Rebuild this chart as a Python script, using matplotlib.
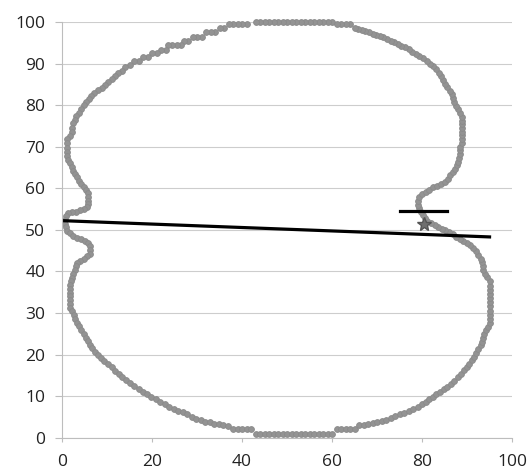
import matplotlib
matplotlib.use('Agg')
import matplotlib.pyplot as plt

plt.rcParams['font.family'] = ['Open Sans', 'DejaVu Sans']

# outline points, traced round the shape (top -> left -> bottom -> right)
top_x = [60, 59, 58, 57, 56, 55, 54, 53, 52, 51, 50, 49, 48, 47, 46, 45, 44, 43,
         41, 40, 39, 38, 37, 36, 35, 34, 33, 32, 31, 30, 29, 28, 27,
         26.5, 25.5, 24.5, 23.5, 23, 22, 21, 20, 19, 18, 17, 16]
top_y = [100, 100, 100, 100, 100, 100, 100, 100, 100, 100, 100, 100, 100, 100, 100, 100, 100, 100,
         99.4, 99.4, 99.4, 99.4, 99.4, 98.5, 98.5, 97.5, 97.5, 97.5, 96.5, 96.5, 96.5, 95.5, 95.5,
         94.5, 94.5, 94.5, 94.5, 93.2, 93.2, 92.5, 92.5, 91.5, 91.5, 90.5, 90.5]

left_x = [15, 14, 13.3, 12.5, 11.8, 11, 10.3, 9.5, 8.8, 8, 7.2, 6.5, 6, 5.3, 4.8, 4.3,
          3.8, 3.2, 2.8, 2.4, 2.2, 2.2, 1.8, 1.2, 1.0, 1.0, 1.0, 1.0, 1.3, 1.8, 2.2, 2.4,
          2.9, 3.4, 3.8, 4.3, 4.8, 5.3, 5.8, 5.8, 5.8, 5.8, 5.6, 4.8, 4, 3.2, 2.3, 1.4,
          0.8, 0.7, 0.7, 0.8, 1.2, 1.8, 2.5, 3.3, 4.2, 5, 5.8, 6.2, 6.2, 6.2, 5.6, 4.8,
          4, 3.3, 3.1, 2.9, 2.5, 2.2, 1.9, 1.8, 1.8, 1.8, 1.8, 1.8, 1.8, 1.8, 2.3, 2.6,
          2.8, 3.3, 3.8, 4.3, 4.9, 5.4, 5.8, 6.2, 6.7, 7.3, 7.9, 8.6, 9.4, 10.2, 11, 11.8,
          12.6, 13.4, 14.3, 15.2, 16.1, 17, 17.9, 18.8, 19.8, 20.8, 21.8, 22.8, 23.8,
          24.8, 25.8, 26.8, 27.8, 28.8, 29.8, 30.8, 31.8, 32.8, 33.8, 34.8, 35.8, 36.8]
left_y = [89.7, 89.2, 88.3, 87.8, 87, 86.3, 85.5, 84.8, 84.2, 83.6, 83, 82.2, 81.5, 80.8, 80, 79,
          78.2, 77.4, 76.5, 75.6, 74.6, 73.6, 72.6, 71.8, 70.8, 69.8, 68.8, 67.8, 66.8, 66, 65, 64.2,
          63.5, 62.6, 61.8, 61, 60.2, 59.5, 58.8, 57.9, 57, 56.1, 55.4, 55, 54.7, 54.4, 54.2, 54,
          53.3, 52.4, 51.5, 50.6, 49.8, 49.2, 48.5, 48.1, 47.8, 47.4, 46.8, 46, 45.1, 44.3, 43.6, 43.1,
          42.6, 42, 41.2, 40.3, 39.4, 38.5, 37.6, 36.7, 35.8, 34.9, 34, 33.1, 32.2, 31.3, 30.4, 29.5,
          28.6, 27.7, 26.8, 25.9, 25, 24.1, 23.2, 22.4, 21.5, 20.6, 19.8, 19.1, 18.4, 17.7, 16.9, 16.1,
          15.3, 14.6, 13.8, 13.1, 12.4, 11.7, 11, 10.5, 9.9, 9.2, 8.6, 8, 7.4,
          6.9, 6.5, 6.1, 5.6, 5.1, 4.6, 4.2, 3.9, 3.7, 3.4, 3.2, 3, 2.8]

bottom_x = [38, 39, 40, 41, 42, 43, 44, 45, 46, 47, 48, 49, 50, 51, 52, 53, 54, 55, 56, 57, 58,
            59, 60, 61, 62, 63, 64, 65, 66, 67, 68, 69, 70, 71, 72, 73, 74, 75, 76, 77, 78, 79, 80]
bottom_y = [2, 2, 2, 2, 2, 1, 1, 1, 1, 1, 1, 1, 1, 1, 1, 1, 1, 1, 1, 1, 1,
            1, 1, 2, 2, 2, 2, 2, 3, 3, 3.2, 3.5, 3.8, 4, 4.3, 4.8, 5.2, 5.6, 6, 6.4, 6.9, 7.4, 8]

right_x = [80.8, 81.6, 82.4, 83.2, 84, 84.8, 85.6, 86.4, 87.2, 88, 88.7, 89.3, 89.9, 90.5, 91,
           91.5, 92, 92.5, 93, 93.4, 93.6, 93.8, 94.2, 94.6, 95, 95, 95, 95, 95, 95, 95, 95, 95,
           95, 95, 94.4, 94, 93.6, 93.6, 93.3, 93, 92.4, 92, 91.4, 90.7, 90, 89.2, 88.4, 87.6,
           86.8, 86, 85.2, 84.4, 83.6, 82.8, 82, 81.2, 80.6, 80.2, 79.8, 79.3, 79, 79, 79.3, 80,
           80.8, 81.6, 82.5, 83.4, 84.3, 85, 85.7, 86.3, 86.9, 87.4, 87.8, 88, 88.3, 88.4, 88.4,
           88.5, 88.8, 88.9, 88.9, 88.9, 88.9, 88.9, 88.9, 88.9, 88.4, 88, 87.6, 87.2, 86.8,
           86.6, 86.2, 85.6, 85, 84.6, 84.3, 83.8, 83.1, 82.4, 81.7, 81, 80.2, 79.4, 78.6, 77.8,
           77, 76.2, 75.4, 74.6, 73.8, 73, 72.2, 71.4, 70.6, 69.8, 69, 68.2, 67.4, 66.6, 65.8,
           65, 64, 63, 62, 61]
right_y = [8.7, 9.3, 9.9, 10.5, 11.1, 11.7, 12.3, 13, 13.7, 14.5, 15.3, 16.2, 17, 17.8, 18.6,
           19.5, 20.4, 21.3, 22.2, 23.1, 24, 24.9, 25.8, 26.7, 27.6, 28.6, 29.6, 30.6, 31.6, 32.6,
           33.6, 34.6, 35.6, 36.6, 37.6, 38.6, 39.5, 40.4, 41.3, 42.2, 43.1, 43.9, 44.8, 45.6, 46.3,
           46.9, 47.4, 47.9, 48.4, 48.9, 49.4, 49.9, 50.3, 50.7, 51.1, 51.6, 52.1, 52.8, 53.6, 54.4,
           55.2, 56, 56.9, 57.8, 58.6, 59.2, 59.7, 60.2, 60.6, 61.1, 61.6, 62.3, 63.1, 63.9, 64.7,
           65.5, 66.4, 67.3, 68.2, 69.1, 70, 70.9, 71.8, 72.7, 73.6, 74.5, 75.4, 76.3, 77.2, 78.1,
           79, 79.9, 80.8, 81.7, 82.6, 83.5, 84.3, 85.1, 86, 86.9, 87.8, 88.6, 89.3, 90, 90.7, 91.3,
           91.9, 92.4, 92.9, 93.4, 93.9, 94.3, 94.7, 95.1, 95.5, 95.9, 96.3, 96.6, 96.9, 97.2, 97.5,
           97.8, 98.1, 98.3, 98.6, 99.5, 99.5, 99.5, 99.5]

# fitted line, short bar and centre mark
fit_x = [0.3, 95]
fit_y = [52.2, 48.3]
bar_x = [75.2, 85.6]
bar_y = [54.5, 54.5]
centre = (80.4, 51.3)

xs = top_x + left_x + bottom_x + right_x
ys = top_y + left_y + bottom_y + right_y

fig = plt.figure(figsize=(5.31, 4.73), dpi=100)
ax = fig.add_axes([0.1168, 0.0746, 0.8475, 0.8789])

ax.set_xlim(0, 100)
ax.set_ylim(0, 100)
ax.set_xticks([0, 20, 40, 60, 80, 100])
ax.set_yticks(range(0, 101, 10))
ax.yaxis.grid(True, color='#cdcdcd', linewidth=0.8)
ax.set_axisbelow(True)

ax.plot(xs, ys, linestyle='none', marker='o', markersize=4.2,
        color='#939393', markeredgecolor='#8a8a8a', markeredgewidth=0.6, clip_on=False)
ax.plot(fit_x, fit_y, color='black', linewidth=2.3)
ax.plot(bar_x, bar_y, color='black', linewidth=2.3)
ax.plot(centre[0], centre[1], marker='*', markersize=10, color='#6f6f6f',
        markeredgecolor='#555555')

for s in ['top', 'right']:
    ax.spines[s].set_visible(False)
ax.spines['left'].set_color('#bdbdbd')
ax.spines['bottom'].set_color('#bdbdbd')
ax.tick_params(axis='y', length=5, color='#bdbdbd', pad=7, labelsize=12.5, labelcolor='#222222')
ax.tick_params(axis='x', length=3, color='#bdbdbd', pad=9, labelsize=12.5, labelcolor='#222222')

plt.savefig('out.png', dpi=100)
